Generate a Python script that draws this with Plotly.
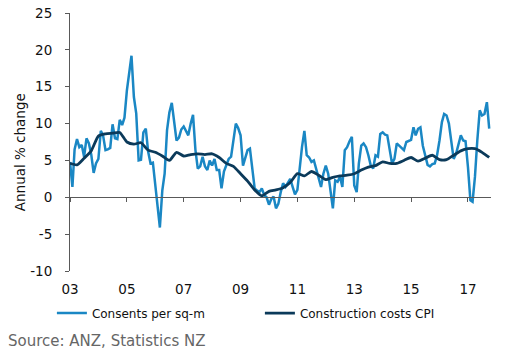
import pandas as pd
import plotly.graph_objects as go

# Monthly consents per sq-m, annual % change (Jan 2003 - Oct 2017)
consents = [
    4.8, 1.4, 6.5, 7.9, 6.8, 7.1, 5.5, 8.0, 7.3, 5.8, 3.3, 4.6,
    5.2, 9.0, 8.4, 6.4, 6.5, 6.7, 9.9, 8.0, 7.9, 10.5, 9.8, 10.8,
    14.5, 17.0, 19.2, 13.6, 11.4, 5.0, 5.1, 8.8, 9.3, 6.2, 4.6, 4.7,
    1.4, -1.5, -4.1, 0.9, 3.2, 9.1, 11.5, 12.8, 10.0, 7.7, 8.1, 9.2,
    9.6, 8.9, 8.4, 10.0, 11.2, 6.4, 3.9, 4.2, 5.5, 4.2, 3.7, 5.0,
    4.3, 5.2, 3.7, 3.7, 1.2, 3.5, 4.4, 5.2, 5.5, 7.7, 10.0, 9.4,
    8.4, 4.3, 5.2, 6.4, 6.6, 3.9, 1.2, 0.9, 0.7, 1.2, 0.3, 0.0,
    -1.0, -0.2, 0.1, -1.5, -0.9, 0.7, 1.9, 1.4, 1.9, 2.5, 1.4, 0.4,
    1.0, 4.1, 6.8, 9.0, 5.7, 5.4, 4.8, 5.0, 3.7, 2.3, 1.4, 3.2,
    4.3, 3.2, 1.2, -1.5, 2.3, 2.1, 2.8, 1.4, 6.4, 6.8, 7.6, 8.2,
    1.6, 0.7, 4.6, 7.0, 7.3, 6.8, 5.7, 4.3, 3.9, 5.7, 5.5, 8.6,
    8.8, 8.5, 8.4, 6.4, 4.6, 5.2, 7.3, 7.0, 6.7, 6.4, 7.5, 7.7,
    7.8, 9.5, 8.4, 9.3, 9.5, 7.0, 5.5, 4.4, 4.2, 4.5, 4.6, 5.7,
    7.7, 10.2, 11.3, 11.1, 10.0, 7.7, 5.2, 5.9, 7.0, 8.4, 7.7, 7.6,
    4.1, -0.4, -0.6, 2.8, 7.7, 11.8, 11.1, 11.3, 12.9, 9.3,
]

# Quarterly construction costs CPI, annual % change
cpi = [
    4.6, 4.4, 5.3, 6.3, 8.3, 8.6, 8.7, 8.8, 7.5, 7.2, 7.4, 6.4,
    6.1, 5.6, 5.0, 6.1, 5.6, 5.8, 5.9, 5.8, 5.9, 5.4, 4.6, 4.2,
    3.2, 2.2, 1.0, 0.2, 0.8, 1.0, 1.3, 2.0, 3.2, 2.9, 3.5, 3.0,
    2.4, 2.7, 2.9, 3.0, 3.2, 3.7, 4.1, 4.3, 4.8, 4.6, 4.6, 5.0,
    5.4, 4.9, 5.3, 5.7, 5.1, 5.1, 5.7, 6.3, 6.6, 6.6, 6.1, 5.4,
]

y_ticks = [-10, -5, 0, 5, 10, 15, 20, 25]
y_tick_labels = ["-10", "-5", "0", "5", "10", "15", "20", "25"]

months = pd.date_range("2003-01-01", periods=len(consents), freq="MS")
quarters = pd.date_range("2003-01-01", periods=len(cpi), freq="3MS")

light = "#1a87c4"
dark = "#0b3a5a"
axis_col = "#595959"
font_family = "DejaVu Sans, Verdana, sans-serif"
x_range = ["2003-01-01", "2017-10-24"]

fig = go.Figure()
fig.add_trace(go.Scatter(x=months, y=consents, mode="lines", name="Consents per sq-m",
                         line=dict(color=light, width=2.5)))
fig.add_trace(go.Scatter(x=quarters, y=cpi, mode="lines", name="Construction costs CPI",
                         line=dict(color=dark, width=2.8, shape="spline", smoothing=0.6)))
# helper trace for the zero-line axis
fig.add_trace(go.Scatter(x=[months[0]], y=[None], xaxis="x2", showlegend=False,
                         hoverinfo="skip", mode="lines"))

fig.update_layout(
    width=514, height=356,
    margin=dict(l=70, r=23, t=13, b=85, autoexpand=False),
    paper_bgcolor="white", plot_bgcolor="white",
    font=dict(family=font_family, size=12, color="#111111"),
    showlegend=True,
    legend=dict(orientation="h", x=-0.043, xanchor="left", y=-0.163, yanchor="middle",
                font=dict(size=12, color="#111111"), entrywidth=163, entrywidthmode="pixels",
                tracegroupgap=0, itemwidth=30),
    xaxis=dict(type="date", range=x_range, tick0="2003-01-01", dtick="M24", tickformat="%y",
               showgrid=False, showline=False, zeroline=False, ticks="",
               ticklabelstandoff=8, tickfont=dict(size=13.5)),
    xaxis2=dict(type="date", range=x_range, tick0="2003-01-01", dtick="M24",
                overlaying="x", anchor="free", position=10 / 35, side="bottom",
                showgrid=False, showline=True, linecolor=axis_col, linewidth=1,
                ticks="outside", ticklen=4, tickcolor=axis_col, showticklabels=False),
    yaxis=dict(range=[-10, 25], tickvals=y_ticks, ticktext=y_tick_labels,
               showgrid=False, zeroline=False,
               showline=True, linecolor=axis_col, linewidth=1,
               ticks="outside", ticklen=4, tickcolor=axis_col, tickfont=dict(size=13.5),
               ticklabelstandoff=10),
    annotations=[
        dict(text="Annual % change", textangle=-90, xref="paper", yref="paper",
             x=-0.119, y=0.46, xanchor="center", yanchor="middle", showarrow=False,
             font=dict(size=13.5, color="#111111")),
        dict(text="Source: ANZ, Statistics NZ", xref="paper", yref="paper",
             x=-0.152, y=-0.271, xanchor="left", yanchor="middle", showarrow=False,
             font=dict(size=15, color="#666666")),
    ],
)

fig.write_html("out.html", config={"displayModeBar": False},
               post_script="document.body.style.margin='0';")
